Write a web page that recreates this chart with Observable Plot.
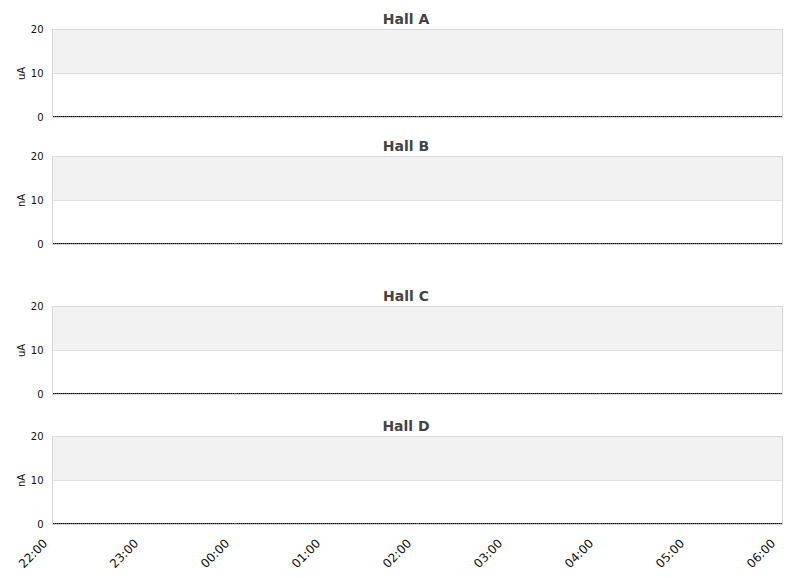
<!DOCTYPE html>
<html>
<head>
<meta charset="utf-8">
<script src="https://cdn.jsdelivr.net/npm/d3@7"></script>
<script src="https://cdn.jsdelivr.net/npm/@observablehq/plot@0.6"></script>
<style>
  body { margin: 0; background: #fff; font-family: "DejaVu Sans", sans-serif; }
  #wrap { position: relative; width: 811px; height: 578px; overflow: hidden; }
  .panel { position: absolute; left: 0; }
</style>
</head>
<body>
<div id="wrap"></div>
<script>
// ---- data ----
const hourLabels = ["22:00", "23:00", "00:00", "01:00", "02:00", "03:00", "04:00", "05:00", "06:00"];
const hallNames = ["Hall A", "Hall B", "Hall C", "Hall D"];
const hallUnits = ["uA", "nA", "uA", "nA"];
const hallAValues = [0, 0, 0, 0, 0, 0, 0, 0, 0];
const hallBValues = [0, 0, 0, 0, 0, 0, 0, 0, 0];
const hallCValues = [0, 0, 0, 0, 0, 0, 0, 0, 0];
const hallDValues = [0, 0, 0, 0, 0, 0, 0, 0, 0];
const yTicks = [0, 10, 20];
const bandRange = [10, 20];

const hallValues = [hallAValues, hallBValues, hallCValues, hallDValues];
const frameTops = [29, 156, 306, 436];

const wrap = document.getElementById("wrap");
const W = 811, mL = 52, mR = 29, mT = 29, plotH = 88;

hallNames.forEach((name, i) => {
  const isLast = i === hallNames.length - 1;
  const mB = isLast ? 54 : 6;
  const rows = hourLabels.map((h, j) => ({ t: h, v: hallValues[i][j] }));
  const marks = [
    Plot.rect([0], { y1: bandRange[0], y2: bandRange[1], fill: "#f2f2f2" }),
    Plot.ruleY([bandRange[0]], { stroke: "#dedede" }),
    Plot.frame({ stroke: "#d9d9d9" }),
    Plot.axisY({
      ticks: yTicks, tickSize: 0, tickPadding: 9, fontSize: 10, fill: "#111",
      label: hallUnits[i], labelAnchor: "center", labelOffset: 35, labelArrow: "none"
    }),
    Plot.lineY(rows, {
      x: "t", y: "v", stroke: "#000", strokeWidth: 1,
      strokeDasharray: "1,1", strokeDashoffset: 0.5, dy: -1
    }),
    Plot.text([name], {
      frameAnchor: "top", dy: -6, dx: -11.5, lineAnchor: "bottom",
      fontSize: 14, fontWeight: "bold", fill: "#444"
    })
  ];
  if (isLast) {
    marks.push(Plot.axisX({
      tickSize: 0, tickPadding: 8, tickRotate: -45, fontSize: 12, fill: "#111", label: null,
      dx: -8, dy: 9
    }));
  }
  const chart = Plot.plot({
    width: W,
    height: mT + plotH + mB,
    marginLeft: mL, marginRight: mR, marginTop: mT, marginBottom: mB,
    style: { fontFamily: "DejaVu Sans, sans-serif", background: "transparent", color: "#444" },
    x: { type: "point", domain: hourLabels, padding: 0, axis: null },
    y: { domain: [0, 20], axis: null },
    marks
  });
  const div = document.createElement("div");
  div.className = "panel";
  div.style.top = (frameTops[i] - mT) + "px";
  div.appendChild(chart);
  wrap.appendChild(div);
});
</script>
</body>
</html>
